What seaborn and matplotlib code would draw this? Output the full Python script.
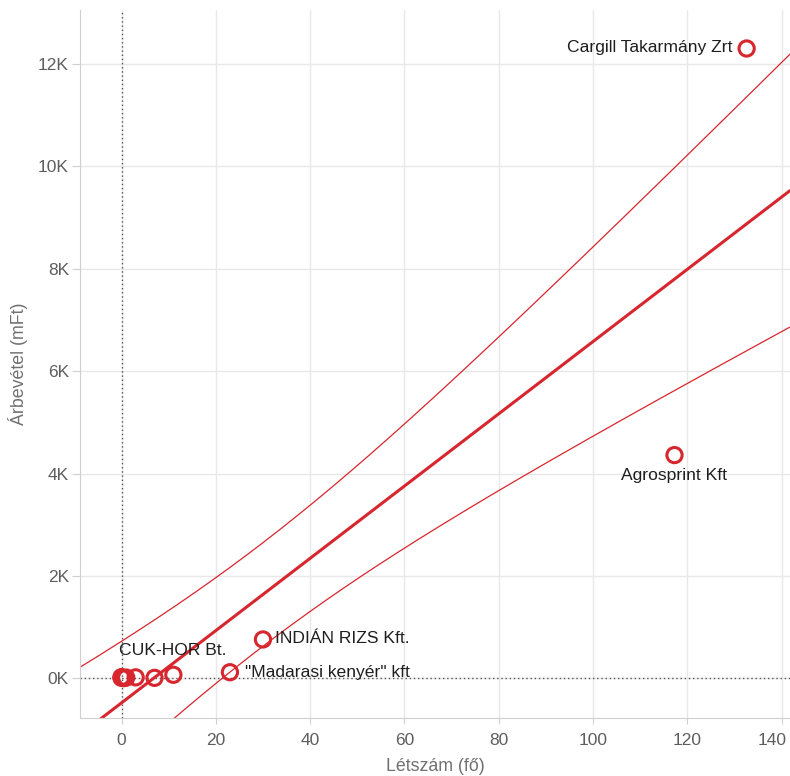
import numpy as np
import pandas as pd
import seaborn as sns
import matplotlib.pyplot as plt
from matplotlib.transforms import ScaledTranslation

# adatok (leolvasva)
letszam = [0, 0, 0.5, 1, 3, 7, 11, 23, 30, 117.3, 132.6]
arbevetel = [10, 25, 5, 15, 20, 10, 70, 120, 760, 4360, 12300]
cegnev = ['CUK-HOR Bt.', '', '', '', '', '', '', '"Madarasi kenyér" kft',
          'INDIÁN RIZS Kft.', 'Agrosprint Kft', 'Cargill Takarmány Zrt']

df = pd.DataFrame({'letszam': letszam, 'arbevetel': arbevetel, 'ceg': cegnev})

piros = '#d7262e'
sns.set_style('white')
plt.rcParams['font.family'] = ['Liberation Sans', 'DejaVu Sans']

fig = plt.figure(figsize=(7.9, 7.76), dpi=100)
ax = fig.add_axes([0.101, 0.075, 0.899, 0.912])
ax.set_xlim(-8.85, 141.8)
ax.set_ylim(-770, 13050)

# racs
ax.set_xticks(range(0, 141, 20))
ax.set_yticks(range(0, 12001, 2000))
ax.grid(True, color='#e8e8e8', linewidth=1)
ax.set_axisbelow(True)
ax.axvline(0, color='#555555', linestyle=(0, (1, 2)), linewidth=1)
ax.axhline(0, color='#555555', linestyle=(0, (1, 2)), linewidth=1)

# trendvonal
sns.regplot(data=df, x='letszam', y='arbevetel', ci=None, scatter=False,
            truncate=False, color=piros, line_kws={'linewidth': 2.2}, ax=ax)

# 95%-os konfidenciasav (normalis kozelites)
x = np.array(letszam)
y = np.array(arbevetel)
n = len(x)
b, a = np.polyfit(x, y, 1)
s = np.sqrt(np.sum((y - (a + b * x)) ** 2) / (n - 2))
sxx = np.sum((x - x.mean()) ** 2)
xs = np.linspace(-8.85, 141.8, 200)
half = 1.96 * s * np.sqrt(1 / n + (xs - x.mean()) ** 2 / sxx)
ax.plot(xs, a + b * xs + half, color=piros, linewidth=0.9)
ax.plot(xs, a + b * xs - half, color=piros, linewidth=0.9)

# pontok
sns.scatterplot(data=df, x='letszam', y='arbevetel', marker='o', s=120,
                facecolors='none', edgecolor=piros, linewidth=2.2, ax=ax, zorder=5)

# cimkek
cimke_hely = {
    'CUK-HOR Bt.': ((-2, 14), 'left', 'bottom'),
    '"Madarasi kenyér" kft': ((11, 0), 'left', 'center'),
    'INDIÁN RIZS Kft.': ((9, 1), 'left', 'center'),
    'Agrosprint Kft': ((0, -9), 'center', 'top'),
    'Cargill Takarmány Zrt': ((-10, 1), 'right', 'center'),
}
for _, r in df.iterrows():
    if r['ceg']:
        off, ha, va = cimke_hely[r['ceg']]
        ax.annotate(r['ceg'], (r['letszam'], r['arbevetel']), xytext=off,
                    textcoords='offset points', ha=ha, va=va, fontsize=12.6,
                    color='#1e1e1e')

ax.yaxis.set_major_formatter(plt.FuncFormatter(lambda v, p: f'{v / 1000:.0f}K'))
ax.tick_params(axis='both', colors='#cfcfcf', labelcolor='#5e5e5e',
               labelsize=12.5, direction='out', left=True, bottom=True)
ax.tick_params(axis='x', length=4.3, pad=6.5)
ax.tick_params(axis='y', length=5.8, pad=2)
# utolso x felirat kicsit balra, hogy beferjen
utolso = ax.get_xticklabels()[-1]
utolso.set_transform(utolso.get_transform() + ScaledTranslation(-0.09, 0, fig.dpi_scale_trans))

ax.set_xlabel('Létszám (fő)', fontsize=12.8, color='#707070', labelpad=7)
ax.set_ylabel('Árbevétel (mFt)', fontsize=12.8, color='#707070', labelpad=7)
for sp in ['top', 'right']:
    ax.spines[sp].set_visible(False)
for sp in ['left', 'bottom']:
    ax.spines[sp].set_color('#cfcfcf')

fig.savefig('out.png', dpi=100)
